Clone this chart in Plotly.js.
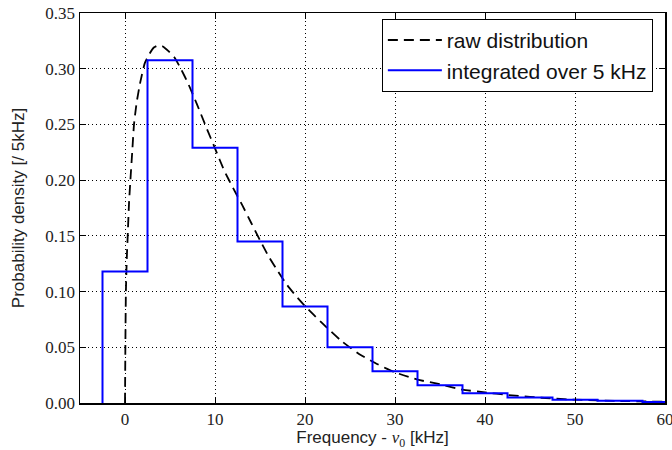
<!DOCTYPE html>
<html>
<head>
<meta charset="utf-8">
<script src="https://cdn.plot.ly/plotly-3.0.1.min.js"></script>
<style>
  html, body { margin: 0; padding: 0; background: #fff; }
  #chart { width: 672px; height: 450px; }
</style>
</head>
<body>
<div id="chart"></div>
<script>
// Raw frequency-offset distribution (kHz, probability density)
const rawFreq = [0, 0.05, 0.1, 0.2, 0.3, 0.45, 0.6, 0.8, 1.0, 1.3, 1.7, 2.2, 2.7, 3.2, 3.7,
                 4.2, 4.8, 5.5, 6.2, 7, 8, 9, 10, 11, 12, 13, 14, 15, 16, 17, 18, 19, 20,
                 22, 24, 26, 28, 30, 32.5, 35, 37.5, 40, 42.5, 45, 47.5, 50, 55, 60];
const rawDensity = [0, 0.06, 0.10, 0.13, 0.15, 0.18, 0.20, 0.225, 0.25, 0.27, 0.288, 0.305,
                    0.313, 0.319, 0.321, 0.320, 0.316, 0.310, 0.300, 0.287, 0.268, 0.248,
                    0.2285, 0.209, 0.193, 0.178, 0.162, 0.146, 0.131, 0.118, 0.106, 0.096,
                    0.087, 0.071, 0.056, 0.044, 0.035, 0.0275, 0.021, 0.0168, 0.012,
                    0.0095, 0.0072, 0.0055, 0.004, 0.003, 0.0018, 0.0011];

// Same distribution integrated over 5 kHz bins (bin centres in kHz)
const binCenters = [0, 5, 10, 15, 20, 25, 30, 35, 40, 45, 50, 55, 60];
const binValues  = [0.118, 0.3075, 0.229, 0.145, 0.0867, 0.050, 0.0285, 0.016, 0.0088,
                    0.005, 0.003, 0.002, 0.001];
const binWidth = 5;

const xTicks = [0, 10, 20, 30, 40, 50, 60];
const yTicks = [0, 0.05, 0.10, 0.15, 0.20, 0.25, 0.30, 0.35];

// Step outline: rise from zero at the first left edge, then one level per bin
const stepX = [binCenters[0] - binWidth / 2];
const stepY = [0];
binCenters.forEach((c, i) => {
  stepX.push(c - binWidth / 2);
  stepY.push(binValues[i]);
});
stepX.push(binCenters[binCenters.length - 1] + binWidth / 2);
stepY.push(binValues[binValues.length - 1]);

const serif = 'Liberation Serif, Times New Roman, serif';
const sans = 'Liberation Sans, Arial, sans-serif';

const traces = [
  {
    x: rawFreq, y: rawDensity, type: 'scatter', mode: 'lines',
    name: 'raw distribution',
    line: { color: '#000000', width: 1.8, dash: '10px,6px', shape: 'spline', smoothing: 0.5 }
  },
  {
    x: stepX, y: stepY, type: 'scatter', mode: 'lines',
    name: 'integrated over 5 kHz',
    line: { color: '#0000ff', width: 2, shape: 'hv' }
  }
];

const axisCommon = {
  showline: true, linecolor: '#000', linewidth: 1.5, mirror: 'ticks',
  ticks: 'inside', ticklen: 6, tickwidth: 1, tickcolor: '#000',
  showgrid: true, gridcolor: '#000', gridwidth: 1, griddash: '1px,3px',
  zeroline: false, ticklabeloverflow: 'allow',
  tickfont: { family: serif, size: 17, color: '#222' }
};

const layout = {
  width: 672, height: 450,
  margin: { l: 80, r: 7, t: 13, b: 46.5 },
  paper_bgcolor: '#fff', plot_bgcolor: '#fff',
  showlegend: true,
  legend: {
    x: 0.516, y: 0.985, xanchor: 'left', yanchor: 'top',
    bgcolor: '#fff', bordercolor: '#000', borderwidth: 1,
    font: { family: sans, size: 21, color: '#111' },
    itemwidth: 54
  },
  xaxis: Object.assign({}, axisCommon, {
    range: [-5, 60], tickvals: xTicks, ticktext: xTicks.map(String),
    title: {
      text: 'Frequency - <span style="font-family:Liberation Serif"><i>ν</i><sub>0</sub></span> [kHz]',
      font: { family: sans, size: 17, color: '#222' }, standoff: 6
    }
  }),
  yaxis: Object.assign({}, axisCommon, {
    range: [0, 0.35], tickvals: yTicks, ticktext: yTicks.map(v => v.toFixed(2)),
    title: {
      text: 'Probability density [/ 5kHz]',
      font: { family: sans, size: 17, color: '#222' }, standoff: 16
    }
  })
};

Plotly.newPlot('chart', traces, layout, { displayModeBar: false, staticPlot: true });
</script>
</body>
</html>
